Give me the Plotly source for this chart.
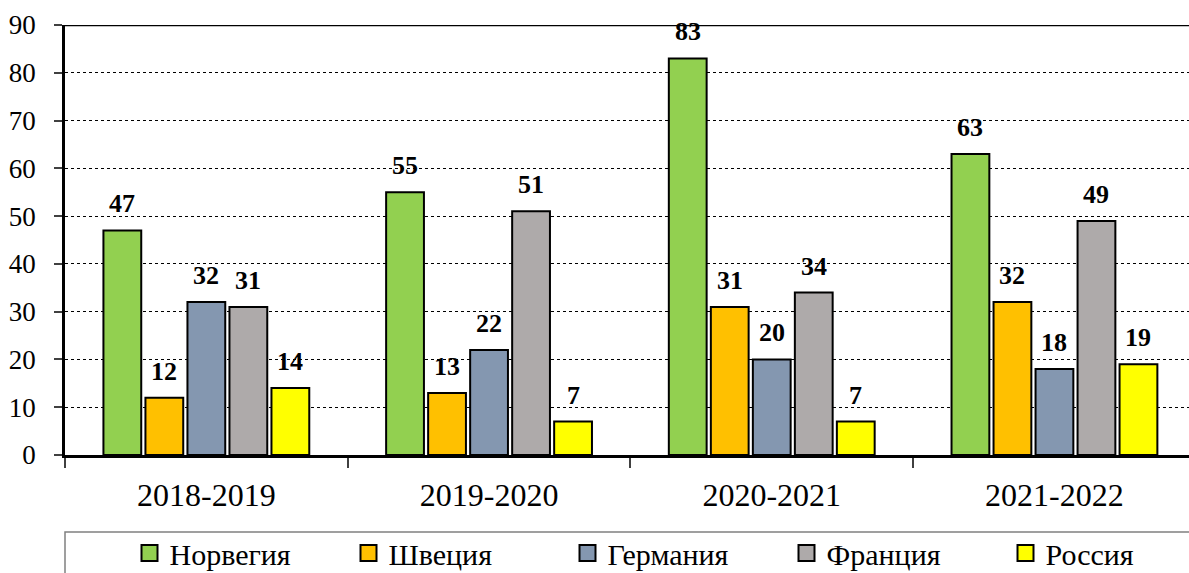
import plotly.graph_objects as go

categories = ["2018-2019", "2019-2020", "2020-2021", "2021-2022"]
series_names = ["Норвегия", "Швеция", "Германия", "Франция", "Россия"]
norway = [47, 55, 83, 63]
sweden = [12, 13, 31, 32]
germany = [32, 22, 20, 18]
france = [31, 51, 34, 49]
russia = [14, 7, 7, 19]
series_values = [norway, sweden, germany, france, russia]
colors = ["#92D050", "#FFC000", "#8497B0", "#AEAAAA", "#FFFF00"]

FONT = "Liberation Serif, DejaVu Serif, serif"
W, H = 1189, 573
ML, MR, MT, MB = 65, 0, 25, 118
cat_px = 282.7
bargap = 0.257
slot_px = (1 - bargap) * cat_px / len(series_names)

fig = go.Figure()
for name, vals, col in zip(series_names, series_values, colors):
    fig.add_trace(go.Bar(
        x=categories, y=vals, name=name, legendgroup=name, showlegend=False,
        marker=dict(color=col, line=dict(color="black", width=2)),
    ))
# legend entries with larger square symbols
for name, col in zip(series_names, colors):
    fig.add_trace(go.Scatter(
        x=[None], y=[None], name=name, legendgroup=name, mode="markers",
        marker=dict(symbol="square", size=16, color=col, line=dict(color="black", width=2)),
        showlegend=True, hoverinfo="skip",
    ))

annotations = []
for i, vals in enumerate(series_values):
    for c, v in zip(categories, vals):
        annotations.append(dict(
            x=c, y=v, text=f"<b>{v}</b>", showarrow=False,
            xref="x", yref="y", yanchor="bottom", yshift=10,
            xshift=(i - 2) * slot_px,
            font=dict(family=FONT, size=26, color="black"),
        ))

plot_w = W - ML - MR
plot_h = H - MT - MB
xmax = -0.5 + plot_w / cat_px

fig.update_layout(
    width=W, height=H,
    margin=dict(l=ML, r=MR, t=MT, b=MB, pad=0, autoexpand=False),
    paper_bgcolor="white", plot_bgcolor="white",
    barmode="group", bargap=bargap, bargroupgap=0.1,
    font=dict(family=FONT, color="black"),
    showlegend=True,
    legend=dict(
        orientation="h", x=(677 - ML) / plot_w, xanchor="center",
        y=(MT + plot_h - 553) / plot_h, yanchor="middle",
        font=dict(family=FONT, size=30, color="black"),
        entrywidth=174, entrywidthmode="pixels",
        bgcolor="rgba(0,0,0,0)", itemsizing="trace",
    ),
    annotations=annotations,
    shapes=[
        dict(type="line", xref="paper", yref="y", x0=0, x1=1, y0=90, y1=90,
             line=dict(color="black", width=2.5)),
        dict(type="rect", xref="paper", yref="paper", x0=0, x1=1.05,
             y0=-0.4, y1=(MT + plot_h - 532) / plot_h,
             line=dict(color="#808080", width=1.5)),
    ],
)

fig.update_xaxes(
    type="category", range=[-0.5, xmax], automargin=False,
    showline=True, linecolor="black", linewidth=2.5,
    ticks="outside", tickson="boundaries", ticklen=10, tickwidth=1.5, tickcolor="#404040",
    tickfont=dict(family=FONT, size=32, color="black"),
    ticklabelstandoff=10,
    showgrid=False, zeroline=False,
)
fig.update_yaxes(
    range=[0, 90], dtick=10, automargin=False,
    showline=True, linecolor="black", linewidth=2.5,
    ticks="outside", ticklen=8, tickwidth=1.5, tickcolor="#404040",
    tickfont=dict(family=FONT, size=27, color="black"),
    ticklabelstandoff=13,
    showgrid=True, gridcolor="black", gridwidth=1, griddash="dot",
    zeroline=False,
)

fig.write_html(
    "out.html",
    config={"displayModeBar": False},
    post_script="document.body.style.margin='0';document.body.style.overflow='hidden';",
)
